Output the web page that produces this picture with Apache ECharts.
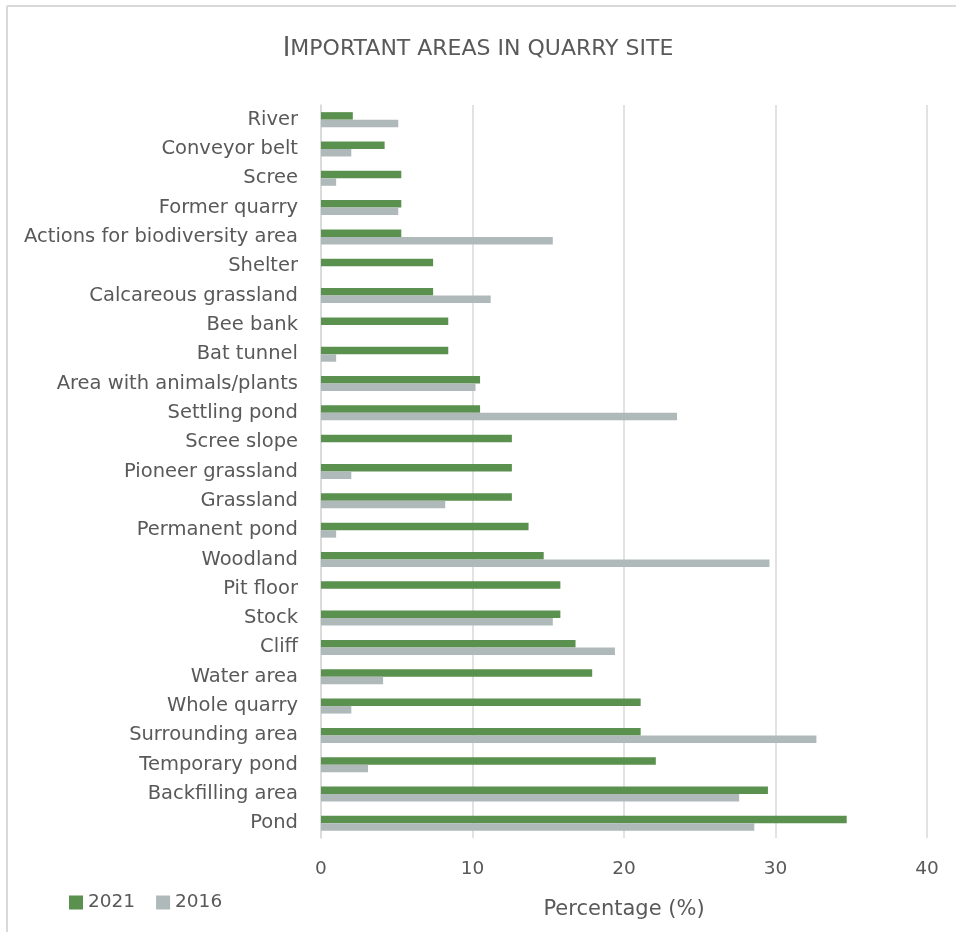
<!DOCTYPE html>
<html>
<head>
<meta charset="utf-8">
<script src="https://cdn.jsdelivr.net/npm/echarts@6/dist/echarts.min.js"></script>
<style>
  html, body { margin: 0; padding: 0; background: #fff; overflow: hidden; }
  #chart { width: 956px; height: 932px; }
</style>
</head>
<body>
<div id="chart"></div>
<script>
// Areas named as important in the quarry site (top to bottom)
const categories = [
  'River', 'Conveyor belt', 'Scree', 'Former quarry', 'Actions for biodiversity area',
  'Shelter', 'Calcareous grassland', 'Bee bank', 'Bat tunnel', 'Area with animals/plants',
  'Settling pond', 'Scree slope', 'Pioneer grassland', 'Grassland', 'Permanent pond',
  'Woodland', 'Pit floor', 'Stock', 'Cliff', 'Water area',
  'Whole quarry', 'Surrounding area', 'Temporary pond', 'Backfilling area', 'Pond'
];

// Share of responses (%) per survey year
const values2021 = [
  2.1, 4.2, 5.3, 5.3, 5.3,
  7.4, 7.4, 8.4, 8.4, 10.5,
  10.5, 12.6, 12.6, 12.6, 13.7,
  14.7, 15.8, 15.8, 16.8, 17.9,
  21.1, 21.1, 22.1, 29.5, 34.7
];
const values2016 = [
  5.1, 2.0, 1.0, 5.1, 15.3,
  0, 11.2, 0, 1.0, 10.2,
  23.5, 0, 2.0, 8.2, 1.0,
  29.6, 0, 15.3, 19.4, 4.1,
  2.0, 32.7, 3.1, 27.6, 28.6
];

const xTicks = [0, 10, 20, 30, 40];

const textColor = '#595959';
const fontFamily = '"DejaVu Sans", "Noto Sans", sans-serif';

const chart = echarts.init(document.getElementById('chart'), null, { renderer: 'canvas' });

chart.setOption({
  backgroundColor: '#ffffff',
  animation: false,
  // light frame along the top and left edges
  graphic: [
    {
      type: 'line',
      shape: { x1: 7, y1: 6, x2: 956, y2: 6 },
      style: { stroke: '#d9d9d9', lineWidth: 2 },
      silent: true,
      z: -10
    },
    {
      type: 'line',
      shape: { x1: 7, y1: 6, x2: 7, y2: 932 },
      style: { stroke: '#d9d9d9', lineWidth: 2 },
      silent: true,
      z: -10
    }
  ],
  title: {
    text: '{big|I}{small|MPORTANT AREAS IN QUARRY SITE}',
    left: 'center',
    top: 31,
    textStyle: {
      fontWeight: 'normal',
      rich: {
        big: { fontSize: 26, color: textColor, fontFamily: fontFamily, fontWeight: 'normal' },
        small: { fontSize: 22, color: textColor, fontFamily: fontFamily, fontWeight: 'normal' }
      }
    }
  },
  legend: {
    left: 69,
    top: 893,
    padding: 0,
    itemWidth: 14,
    itemHeight: 14,
    itemGap: 21,
    icon: 'rect',
    data: ['2021', '2016'],
    textStyle: { color: textColor, fontSize: 18.5, fontFamily: fontFamily }
  },
  grid: {
    left: 321,
    right: 29,
    top: 105,
    bottom: 94,
    containLabel: false
  },
  xAxis: {
    type: 'value',
    min: xTicks[0],
    max: xTicks[xTicks.length - 1],
    interval: 10,
    name: 'Percentage (%)',
    nameLocation: 'middle',
    nameGap: 61,
    nameTextStyle: { color: textColor, fontSize: 21, fontFamily: fontFamily },
    axisLine: { show: false },
    axisTick: { show: false },
    axisLabel: {
      color: textColor,
      fontSize: 18.5,
      fontFamily: fontFamily,
      margin: 22,
      formatter: v => (xTicks.indexOf(v) >= 0 ? String(v) : '')
    },
    splitLine: { show: true, lineStyle: { color: '#d9d9d9', width: 1.5 } }
  },
  yAxis: {
    type: 'category',
    inverse: true,
    data: categories,
    axisLine: { show: true, lineStyle: { color: '#d9d9d9', width: 1.5 } },
    axisTick: { show: false },
    axisLabel: {
      color: textColor,
      fontSize: 19.5,
      fontFamily: fontFamily,
      margin: 23
    }
  },
  series: [
    {
      name: '2021',
      type: 'bar',
      data: values2021,
      barWidth: 7.5,
      barGap: '0%',
      itemStyle: { color: '#5a914f' }
    },
    {
      name: '2016',
      type: 'bar',
      data: values2016,
      barWidth: 7.5,
      barGap: '0%',
      itemStyle: { color: '#afb9b9' }
    }
  ]
});
</script>
</body>
</html>
